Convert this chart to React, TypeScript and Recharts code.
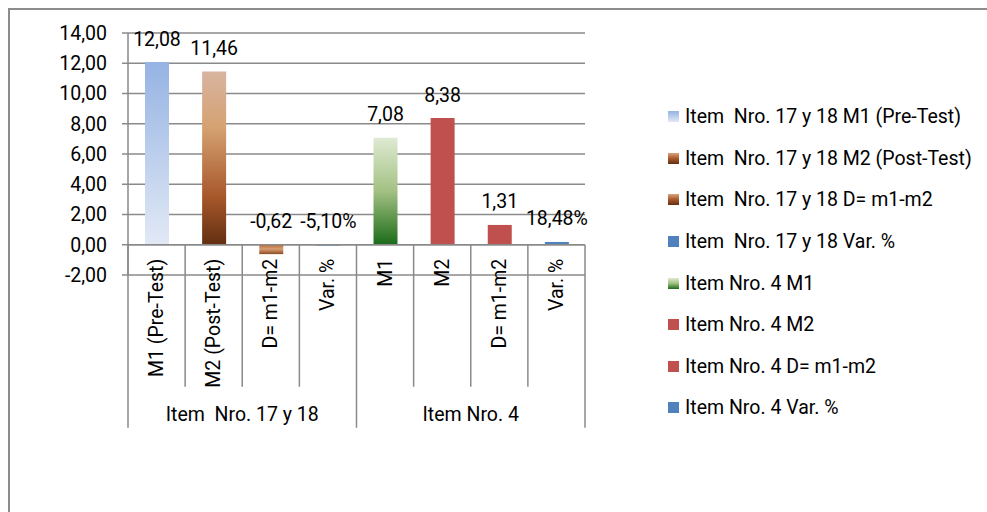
import * as React from "react";
import {
  BarChart,
  Bar,
  Cell,
  XAxis,
  YAxis,
  CartesianGrid,
  ReferenceLine,
  Legend,
  LabelList,
} from "recharts";

// chart values
const categories = [
  "M1 (Pre-Test)",
  "M2 (Post-Test)",
  "D= m1-m2",
  "Var. %",
  "M1",
  "M2",
  "D= m1-m2",
  "Var. %",
];
const groups = ["Item  Nro. 17 y 18", "Item Nro. 4"];
const values = [12.08, 11.46, -0.62, -0.051, 7.08, 8.38, 1.31, 0.1848];
const isPercent = [false, false, false, true, false, false, false, true];
const yTicks = [-2, 0, 2, 4, 6, 8, 10, 12, 14];
const legendNames = [
  "Item  Nro. 17 y 18 M1 (Pre-Test)",
  "Item  Nro. 17 y 18 M2 (Post-Test)",
  "Item  Nro. 17 y 18 D= m1-m2",
  "Item  Nro. 17 y 18 Var. %",
  "Item Nro. 4 M1",
  "Item Nro. 4 M2",
  "Item Nro. 4 D= m1-m2",
  "Item Nro. 4 Var. %",
];

// styles
const barFills = [
  "url(#gBlue)",
  "url(#gBrown)",
  "url(#gBrownNeg)",
  "#4f81bd",
  "url(#gGreen)",
  "#c0504d",
  "#c0504d",
  "#4f81bd",
];
const swatches = [
  "linear-gradient(#95b3e3, #e2e9f5)",
  "linear-gradient(#d9a47c, #a8582b, #622f10)",
  "linear-gradient(#d9a47c, #a8582b, #622f10)",
  "#4f81bd",
  "linear-gradient(#dfead3, #9fbf7e, #1a6b1a)",
  "#c0504d",
  "#c0504d",
  "#4f81bd",
];

const W = 979;
const H = 504;
const MARGIN = { top: 25, right: 402, bottom: 77, left: 60 };
const Y_AXIS_W = 60;
const X_AXIS_H = 160;
const Y_MIN = -2;
const Y_MAX = 14;
const PLOT_H = H - MARGIN.top - MARGIN.bottom - X_AXIS_H;
const PLOT_W = W - MARGIN.left - MARGIN.right - Y_AXIS_W;
const ZERO_Y = MARGIN.top + (PLOT_H * Y_MAX) / (Y_MAX - Y_MIN);
const BAND = PLOT_W / categories.length;
const GRID = "#8a8a8a";
const FONT = "Roboto, 'Open Sans', sans-serif";
const FS = 19.5;

const fmt = (v: number, pct: boolean) =>
  (pct ? (v * 100).toFixed(2) + "%" : v.toFixed(2)).replace(".", ",");

const data = categories.map((name, i) => ({
  name,
  value: values[i],
  label: fmt(values[i], isPercent[i]),
}));

function CategoryTick(props: any) {
  const { x, index, payload } = props;
  const groupSize = categories.length / groups.length;
  const half = BAND / 2;
  const groupStart = index % groupSize === 0;
  const last = index === categories.length - 1;
  return (
    <g>
      <line
        x1={x - half}
        x2={x - half}
        y1={ZERO_Y}
        y2={ZERO_Y + (groupStart ? 183 : 142)}
        stroke={GRID}
        strokeWidth={1.5}
      />
      {last && (
        <line
          x1={x + half}
          x2={x + half}
          y1={ZERO_Y}
          y2={ZERO_Y + 183}
          stroke={GRID}
          strokeWidth={1.5}
        />
      )}
      <text
        transform={`translate(${x},${ZERO_Y + 14}) rotate(-90)`}
        textAnchor="end"
        dominantBaseline="central"
        fontFamily={FONT}
        fontSize={FS}
        fill="#000"
      >
        {payload.value}
      </text>
      {groupStart && (
        <text
          x={x - half + (BAND * groupSize) / 2}
          y={ZERO_Y + 170}
          textAnchor="middle"
          dominantBaseline="central"
          fontFamily={FONT}
          fontSize={FS}
          fill="#000"
          style={{ whiteSpace: "pre" }}
        >
          {groups[index / groupSize]}
        </text>
      )}
    </g>
  );
}

function ValueLabel(props: any) {
  const vb = props.viewBox && props.viewBox.width !== undefined ? props.viewBox : props;
  const { x, y, width, height } = vb;
  const top = Math.min(y, y + height);
  return (
    <text
      x={x + width / 2}
      y={top - 23}
      textAnchor="middle"
      dominantBaseline="central"
      fontFamily={FONT}
      fontSize={FS}
      fill="#000"
    >
      {props.value}
    </text>
  );
}

function LegendBox() {
  return (
    <div style={{ fontFamily: FONT, fontSize: FS, color: "#000" }}>
      {legendNames.map((n, i) => (
        <div key={i} style={{ display: "flex", alignItems: "center", height: 41.6 }}>
          <span
            style={{
              width: 11,
              height: 11,
              background: swatches[i],
              marginRight: 6,
              flexShrink: 0,
            }}
          />
          <span style={{ whiteSpace: "pre" }}>{n}</span>
        </div>
      ))}
    </div>
  );
}

export default function App() {
  return (
    <div style={{ position: "absolute", left: 8, top: 8, width: W, height: H }}>
      <div
        style={{
          position: "absolute",
          left: 0,
          top: 0,
          width: W,
          height: H,
          borderTop: "2px solid #8c8c8c",
          borderLeft: "2px solid #8c8c8c",
          boxSizing: "border-box",
        }}
      />
      <BarChart width={W} height={H} data={data} margin={MARGIN}>
        <defs>
          <linearGradient id="gBlue" x1="0" y1="0" x2="0" y2="1">
            <stop offset="0%" stopColor="#95b3e3" />
            <stop offset="100%" stopColor="#e2e9f5" />
          </linearGradient>
          <linearGradient id="gBrown" x1="0" y1="0" x2="0" y2="1">
            <stop offset="0%" stopColor="#d8b4a0" />
            <stop offset="32%" stopColor="#d5a272" />
            <stop offset="72%" stopColor="#a8582b" />
            <stop offset="100%" stopColor="#622f10" />
          </linearGradient>
          <linearGradient id="gBrownNeg" x1="0" y1="0" x2="0" y2="1">
            <stop offset="0%" stopColor="#b86a38" />
            <stop offset="45%" stopColor="#d89e74" />
            <stop offset="100%" stopColor="#8c4a22" />
          </linearGradient>
          <linearGradient id="gGreen" x1="0" y1="0" x2="0" y2="1">
            <stop offset="0%" stopColor="#dfead3" />
            <stop offset="50%" stopColor="#a3c182" />
            <stop offset="100%" stopColor="#1a6b1a" />
          </linearGradient>
        </defs>
        <CartesianGrid vertical={false} stroke={GRID} strokeWidth={1.5} />
        <XAxis
          dataKey="name"
          height={X_AXIS_H}
          axisLine={false}
          tickLine={false}
          interval={0}
          tick={<CategoryTick />}
        />
        <YAxis
          width={Y_AXIS_W}
          domain={[Y_MIN, Y_MAX]}
          ticks={yTicks}
          interval={0}
          axisLine={{ stroke: GRID, strokeWidth: 1.5 }}
          tickLine={{ stroke: GRID, strokeWidth: 1.5 }}
          tickSize={6}
          tickMargin={15}
          tickFormatter={(v: number) => fmt(v, false)}
          tick={{ fontFamily: FONT, fontSize: FS, fill: "#000" }}
        />
        <ReferenceLine y={0} stroke={GRID} strokeWidth={1.5} />
        <Bar dataKey="value" barSize={24} isAnimationActive={false}>
          {data.map((d, i) => (
            <Cell key={i} fill={barFills[i]} />
          ))}
          <LabelList dataKey="label" content={<ValueLabel />} />
        </Bar>
        <Legend
          layout="vertical"
          align="center"
          verticalAlign="middle"
          wrapperStyle={{ left: 660, top: 88, width: 320 }}
          content={<LegendBox />}
        />
      </BarChart>
    </div>
  );
}
